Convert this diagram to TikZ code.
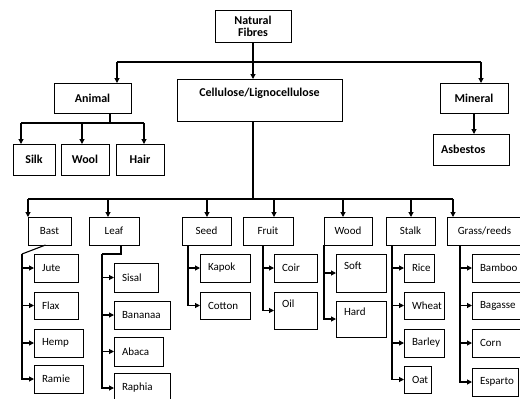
\documentclass[tikz,border=0pt]{standalone}
\usepackage{fontspec}
\setmainfont{Carlito}
\usetikzlibrary{arrows.meta}

\tikzset{
  box/.style={draw, line width=0.9pt, inner xsep=8pt, inner ysep=0pt, outer sep=0pt,
    align=left, font=\fontsize{11}{12}\selectfont},
  top/.style={box, align=center, font=\fontsize{12}{12}\selectfont\bfseries},
  mid/.style={align=center},
  tall/.style={text depth=14pt},
  line/.style={line width=1.1pt},
  link/.style={line, -{Triangle[length=5pt,width=5pt]}},
}

% name, x, y, width, height, text
\newcommand{\fibrebox}[7][]{%
  \pgfmathsetlengthmacro{\fibretw}{(#5)*1pt-16pt}%
  \node[box,#1,text width=\fibretw,minimum height=#6pt,anchor=north west] (#2) at (#3,#4) {#7};%
}

\begin{document}
\begin{tikzpicture}[x=1pt,y=-1pt]
  \useasboundingbox (0,0) rectangle (520,399);

  % Top level
  \fibrebox[top]{nf}{215}{10}{76}{32}{Natural\\Fibres}
  \fibrebox[top]{animal}{54}{83}{77}{30}{Animal}
  \fibrebox[top,text depth=15pt]{cell}{177}{79}{165}{42}{Cellulose/Lignocellulose}
  \fibrebox[top]{mineral}{440}{83}{68}{30}{Mineral}

  % Animal and mineral fibres
  \fibrebox[top]{silk}{13}{144}{42}{31}{Silk}
  \fibrebox[top]{wool}{61}{144}{48}{31}{Wool}
  \fibrebox[top]{hair}{116}{144}{48}{31}{Hair}
  \fibrebox[top,align=left]{asb}{433}{134}{76}{31}{Asbestos}

  % Plant groups
  \fibrebox[mid]{bast}{28}{217}{43}{28}{Bast}
  \fibrebox[mid]{leaf}{89}{217}{50}{28}{Leaf}
  \fibrebox[mid]{seed}{182}{217}{49}{28}{Seed}
  \fibrebox[mid]{fruit}{243}{217}{50}{28}{Fruit}
  \fibrebox[mid]{wood}{324}{217}{48}{28}{Wood}
  \fibrebox[mid]{stalk}{386}{217}{49}{28}{Stalk}
  \fibrebox[mid]{grass}{447}{217}{75}{28}{Grass/reeds}

  % Bast
  \fibrebox{jute}{34}{254}{44}{28}{Jute}
  \fibrebox{flax}{34}{292}{44}{27}{Flax}
  \fibrebox{hemp}{34}{329}{49}{28}{Hemp}
  \fibrebox{ramie}{34}{365}{49}{28}{Ramie}
  % Leaf
  \fibrebox{sisal}{114}{263}{44}{29}{Sisal}
  \fibrebox{bananaa}{114}{301}{56}{28}{Bananaa}
  \fibrebox{abaca}{114}{337}{49}{29}{Abaca}
  \fibrebox{raphia}{114}{373}{56}{30}{Raphia}
  % Seed
  \fibrebox{kapok}{200}{254}{50}{28}{Kapok}
  \fibrebox{cotton}{200}{292}{50}{27}{Cotton}
  % Fruit
  \fibrebox{coir}{274}{254}{43}{28}{Coir}
  \fibrebox[tall]{oil}{274}{292}{43}{37}{Oil}
  % Wood
  \fibrebox[tall]{soft}{336}{254}{50}{38}{Soft}
  \fibrebox[tall]{hard}{336}{301}{50}{36}{Hard}
  % Stalk
  \fibrebox{rice}{404}{254}{30}{28}{Rice}
  \fibrebox{wheat}{404}{292}{40}{27}{Wheat}
  \fibrebox{barley}{404}{329}{40}{28}{Barley}
  \fibrebox{oat}{404}{366}{27}{27}{Oat}
  % Grass/reeds
  \fibrebox{bamboo}{472}{254}{52}{28}{Bamboo}
  \fibrebox{bagasse}{472}{292}{52}{27}{Bagasse}
  \fibrebox{corn}{472}{329}{49}{28}{Corn}
  \fibrebox{esparto}{472}{368}{46}{28}{Esparto}

  % Natural fibres to the three classes
  \coordinate (animT) at (117,62);
  \coordinate (minT) at (481,62);
  \draw[line] (animT) -- (minT);
  \draw[link] (animT) -- (animT |- animal.north);
  \draw[link] (nf.south) -- (nf.south |- cell.north);
  \draw[link] (minT) -- (minT |- mineral.north);
  \draw[link] (mineral.south) -- (mineral.south |- asb.north);

  % Animal
  \coordinate (animS) at (110,123);
  \draw[line] (animS |- animal.south) -- (animS);
  \foreach \n/\x in {silk/21,wool/82,hair/144}{
    \coordinate (\n T) at (\x,123);
    \draw[link] (\n T) -- (\n T |- \n.north);
  }
  \draw[line] (silkT) -- (hairT);

  % Cellulose/Lignocellulose
  \coordinate (cellS) at (253,199);
  \draw[line] (cellS |- cell.south) -- (cellS);
  \foreach \g/\x in {bast/28,leaf/108,seed/207,fruit/274,wood/343,stalk/411,grass/453}{
    \coordinate (\g T) at (\x,199);
    \draw[link] (\g T) -- (\g T |- \g.north);
  }
  \draw[line] (bastT) -- (grassT);

  % Bast and leaf stems
  \coordinate (bastS) at (22,254);
  \draw[line] ([xshift=-4pt]bast.south) -- (bastS);
  \foreach \c in {jute,flax,hemp,ramie}
    \draw[link] (bastS) |- (\c.west);
  \coordinate (leafS) at (102,254);
  \draw[line] ([xshift=7pt]leaf.south) |- (leafS);
  \foreach \c in {sisal,bananaa,abaca,raphia}
    \draw[link] (leafS) |- (\c.west);

  % Other stems
  \foreach \g/\dx/\kids in {seed/6/{kapok,cotton},fruit/20/{coir,oil},wood/0/{soft,hard},
      stalk/6/{rice,wheat,barley,oat},grass/13/{bamboo,bagasse,corn,esparto}}{
    \coordinate (\g S) at ([xshift=\dx pt]\g.south west);
    \foreach \c in \kids
      \draw[link] (\g S) |- (\c.west);
  }
\end{tikzpicture}
\end{document}
